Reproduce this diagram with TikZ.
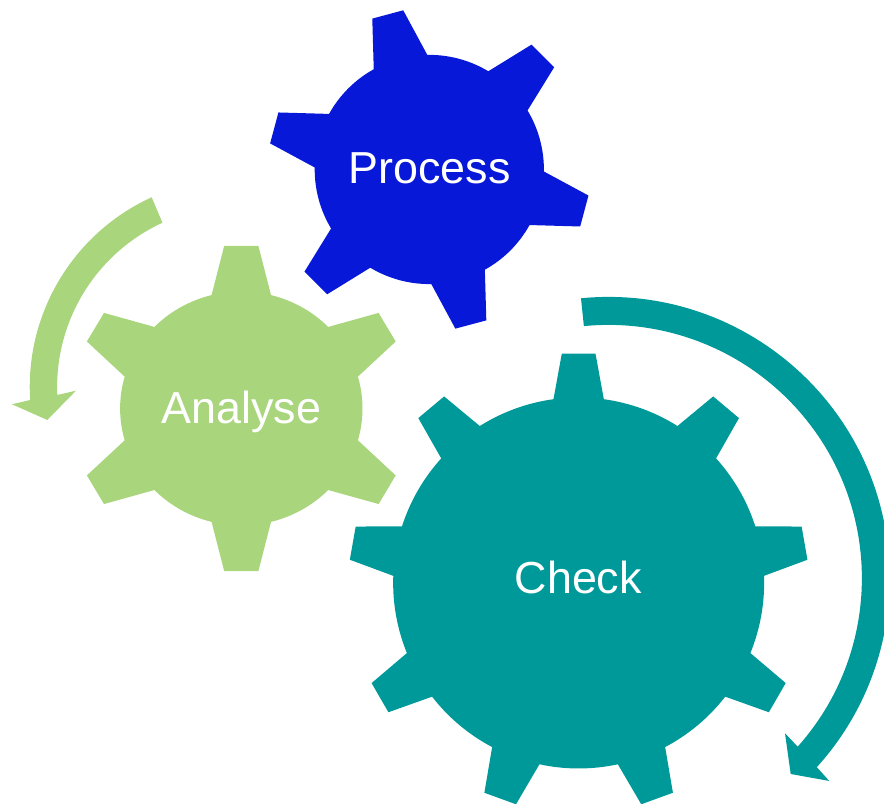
\documentclass[tikz,border=0pt]{standalone}
\usepackage{tikz}
\usepackage{xcolor}
\usepackage{fontspec}
\setmainfont{Liberation Sans}
\definecolor{processblue}{HTML}{0818D9}
\definecolor{analysegreen}{HTML}{A9D57D}
\definecolor{checkteal}{HTML}{009999}
\tikzset{
    gearlabel/.style={text=white,font=\fontsize{12.75}{15}\selectfont,inner sep=0pt,anchor=base},
}
\begin{document}
\begin{tikzpicture}[x=0.01cm,y=0.01cm]
        \useasboundingbox (0,0) rectangle (884,804);
        % gears
        \fill[processblue,shift={(429.3,634.5)}] (-29:114.6)
            \foreach \a in {-15,45,...,285} {
                -- ({\a-14}:114.6) -- ({\a-5.7}:161.3) -- ({\a+5.7}:161.3) -- ({\a+14}:114.6)
                arc[start angle=\a+14,end angle=\a+46,radius=114.6]
            } -- cycle;
        \fill[analysegreen,shift={(241.3,395.5)},yscale=0.965] (15.8:121.2)
            \foreach \a in {30,90,...,330} {
                -- ({\a-14.2}:121.2) -- ({\a-5.8}:169.3) -- ({\a+5.8}:169.3) -- ({\a+14.2}:121.2)
                arc[start angle=\a+14.2,end angle=\a+45.8,radius=121.2]
            } -- cycle;
        \fill[checkteal,shift={(578.65,221)}] (2.2:185.5)
            \foreach \a in {10,50,...,330} {
                -- ({\a-7.8}:185.5) -- ({\a-4.2}:230) -- ({\a+4.2}:230) -- ({\a+7.8}:185.5)
                arc[start angle=\a+7.8,end angle=\a+32.2,radius=185.5]
            } -- cycle;
        % arrows
        \fill[analysegreen] (151.7,606.7) arc[start angle=114.5,end angle=183.6,radius=208.4]
            -- (12,399.7) -- (47.3,384) -- (76,413.3) -- (57.3,409)
            arc[start angle=182.5,end angle=114.7,radius=180.9] -- cycle;
        \fill[checkteal] (581,505.7) arc[start angle=95.6,end angle=-42.2,radius=281.3]
            -- (829.3,23) -- (790.7,30) -- (785,70.7) -- (797.7,57.3)
            arc[start angle=-41.7,end angle=95.6,radius=253.3] -- cycle;
        % labels
        \node[gearlabel] (process) at (429.5,620.2) {Process};
        \node[gearlabel] (analyse) at (241.2,380.7) {Analyse};
        \node[gearlabel] (check) at (578.3,210) {Check};
    \end{tikzpicture}
\end{document}
